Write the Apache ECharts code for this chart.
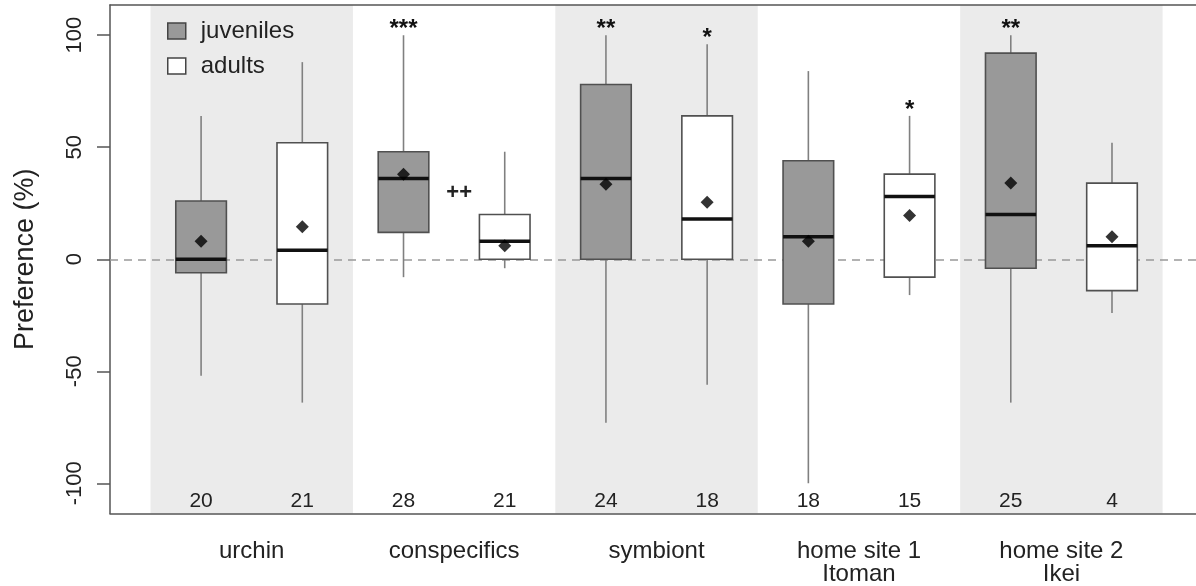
<!DOCTYPE html>
<html>
<head>
<meta charset="utf-8">
<script src="https://cdn.jsdelivr.net/npm/echarts@6/dist/echarts.min.js"></script>
<style>
  html, body { margin: 0; padding: 0; background: #fff; }
  #chart { width: 1196px; height: 586px; }
</style>
</head>
<body>
<div id="chart"></div>
<script>
const categories = ['urchin', 'conspecifics', 'symbiont', 'home site 1', 'home site 2'];
const siteNames = ['', '', '', 'Itoman', 'Ikei'];
const groups = ['juveniles', 'adults'];
// one entry per box, juveniles / adults alternate
const whiskerLow = [-52, -64, -8, -4, -73, -56, -100, -16, -64, -24];
const q1 = [-6, -20, 12, 0, 0, 0, -20, -8, -4, -14];
const median = [0, 4, 36, 8, 36, 18, 10, 28, 20, 6];
const q3 = [26, 52, 48, 20, 78, 64, 44, 38, 92, 34];
const whiskerHigh = [64, 88, 100, 48, 100, 96, 84, 64, 100, 52];
const means = [8, 14.5, 38, 6, 33.5, 25.5, 8, 19.5, 34, 10];
const sampleSizes = [20, 21, 28, 21, 24, 18, 18, 15, 25, 4];
const significance = ['', '', '***', '', '**', '*', '', '*', '**', ''];
const betweenMarks = [{ x: 3.55, y: 29.5, text: '++' }];
const yTicks = [-100, -50, 0, 50, 100];

const FONT = 'Liberation Sans, Arial, sans-serif';
const fills = { juveniles: '#999999', adults: '#ffffff' };

const boxData = { juveniles: [], adults: [] };
const meanData = [];
const nData = [];
const sigData = [];
whiskerLow.forEach((v, i) => {
    const pos = i + 1;
    const g = groups[i % 2];
    boxData[g].push([pos, whiskerLow[i], q1[i], median[i], q3[i], whiskerHigh[i]]);
    meanData.push([pos, means[i]]);
    nData.push([pos, sampleSizes[i]]);
    if (significance[i]) sigData.push([pos, whiskerHigh[i], significance[i]]);
});

// shaded bands behind every other category pair
const bands = [];
for (let c = 0; c < categories.length; c += 2) {
    bands.push([{ xAxis: c * 2 + 0.5 }, { xAxis: c * 2 + 2.5 }]);
}

function renderBox(fill) {
    return function (params, api) {
        const x = api.value(0);
        const lo = api.coord([x, api.value(1)]);
        const b1 = api.coord([x, api.value(2)]);
        const md = api.coord([x, api.value(3)]);
        const b3 = api.coord([x, api.value(4)]);
        const hi = api.coord([x, api.value(5)]);
        const half = api.size([0.5, 0])[0] / 2;
        const whisker = { stroke: '#808080', lineWidth: 1.6 };
        return {
            type: 'group',
            children: [
                { type: 'line', shape: { x1: lo[0], y1: lo[1], x2: b1[0], y2: b1[1] }, style: whisker },
                { type: 'line', shape: { x1: b3[0], y1: b3[1], x2: hi[0], y2: hi[1] }, style: whisker },
                {
                    type: 'rect',
                    shape: { x: b3[0] - half, y: b3[1], width: half * 2, height: b1[1] - b3[1] },
                    style: { fill: fill, stroke: '#505050', lineWidth: 1.6 }
                },
                {
                    type: 'line',
                    shape: { x1: md[0] - half, y1: md[1], x2: md[0] + half, y2: md[1] },
                    style: { stroke: '#111', lineWidth: 3.5 }
                }
            ]
        };
    };
}

const chart = echarts.init(document.getElementById('chart'));
chart.setOption({
    backgroundColor: '#fff',
    animation: false,
    textStyle: { fontFamily: FONT },
    legend: {
        orient: 'vertical',
        left: 162,
        top: 14,
        itemWidth: 18,
        itemHeight: 16,
        itemGap: 11,
        icon: 'rect',
        selectedMode: false,
        textStyle: { fontSize: 24, color: '#222', fontFamily: FONT, padding: [0, 0, 0, 10] },
        data: [
            { name: 'juveniles', itemStyle: { color: fills.juveniles, borderColor: '#444', borderWidth: 1.5 } },
            { name: 'adults', itemStyle: { color: fills.adults, borderColor: '#444', borderWidth: 1.5 } }
        ]
    },
    grid: { left: 110, right: 0, top: 5, bottom: 70 },
    xAxis: [
        {
            type: 'value',
            min: 0.1,
            max: 10.83,
            position: 'bottom',
            splitLine: { show: false },
            axisTick: { show: false },
            axisLine: { onZero: false, lineStyle: { color: '#555', width: 1.5 } },
            axisLabel: {
                customValues: categories.map((c, i) => i * 2 + 1.5),
                formatter: function (v) {
                    const idx = Math.round((v - 1.5) / 2);
                    return siteNames[idx] ? categories[idx] + '\n' + siteNames[idx] : categories[idx];
                },
                fontSize: 24,
                lineHeight: 23,
                color: '#222',
                margin: 26
            }
        },
        {
            type: 'value',
            min: 0.1,
            max: 10.83,
            position: 'top',
            splitLine: { show: false },
            axisTick: { show: false },
            axisLabel: { show: false },
            axisLine: { onZero: false, lineStyle: { color: '#555', width: 1.5 } }
        }
    ],
    yAxis: {
        type: 'value',
        min: -113.5,
        max: 113.5,
        name: 'Preference (%)',
        nameLocation: 'middle',
        nameRotate: 90,
        nameGap: 71,
        nameTextStyle: { fontSize: 27, color: '#222', fontFamily: FONT },
        splitLine: { show: false },
        axisLine: { onZero: false, lineStyle: { color: '#555', width: 1.5 } },
        axisTick: { customValues: yTicks, length: 13, lineStyle: { color: '#555', width: 1.5 } },
        axisLabel: {
            customValues: yTicks,
            rotate: 90,
            fontSize: 22,
            color: '#222',
            margin: 24
        }
    },
    series: [
        {
            name: 'bands',
            type: 'custom',
            renderItem: function () { return null; },
            data: [],
            z: 0,
            markArea: {
                silent: true,
                z: 0,
                itemStyle: { color: '#ebebeb' },
                data: bands
            }
        },
        {
            name: 'zero',
            type: 'custom',
            renderItem: function () { return null; },
            data: [],
            z: 1,
            markLine: {
                silent: true,
                z: 1,
                symbol: 'none',
                label: { show: false },
                lineStyle: { color: '#999', type: [8, 6], width: 1.5 },
                data: [{ yAxis: 0 }]
            }
        },
        {
            name: 'juveniles',
            type: 'custom',
            renderItem: renderBox(fills.juveniles),
            data: boxData.juveniles,
            encode: { x: 0, y: [1, 2, 3, 4, 5] },
            itemStyle: { color: fills.juveniles },
            z: 3
        },
        {
            name: 'adults',
            type: 'custom',
            renderItem: renderBox(fills.adults),
            data: boxData.adults,
            encode: { x: 0, y: [1, 2, 3, 4, 5] },
            itemStyle: { color: fills.adults },
            z: 3
        },
        {
            name: 'mean',
            type: 'scatter',
            symbol: 'diamond',
            symbolSize: 13,
            itemStyle: { color: '#000' },
            data: meanData,
            z: 5
        },
        {
            name: 'n',
            type: 'custom',
            data: nData,
            z: 5,
            renderItem: function (params, api) {
                const p = api.coord([api.value(0), -108]);
                return {
                    type: 'text',
                    x: p[0], y: p[1],
                    style: { text: String(api.value(1)), fontSize: 21, fontFamily: FONT, fill: '#222', align: 'center', verticalAlign: 'middle' }
                };
            }
        },
        {
            name: 'significance',
            type: 'custom',
            data: sigData,
            z: 5,
            renderItem: function (params, api) {
                const p = api.coord([api.value(0), api.value(1) + 2.5]);
                return {
                    type: 'text',
                    x: p[0], y: p[1],
                    style: { text: sigData[params.dataIndex][2], fontSize: 24, fontWeight: 'bold', fontFamily: FONT, fill: '#111', align: 'center', verticalAlign: 'middle' }
                };
            }
        },
        {
            name: 'between',
            type: 'custom',
            data: betweenMarks.map(m => [m.x, m.y]),
            z: 5,
            renderItem: function (params, api) {
                const p = api.coord([api.value(0), api.value(1)]);
                return {
                    type: 'text',
                    x: p[0], y: p[1],
                    style: { text: betweenMarks[params.dataIndex].text, fontSize: 22, fontWeight: 'bold', fontFamily: FONT, fill: '#222', align: 'center', verticalAlign: 'middle' }
                };
            }
        }
    ]
});
</script>
</body>
</html>
